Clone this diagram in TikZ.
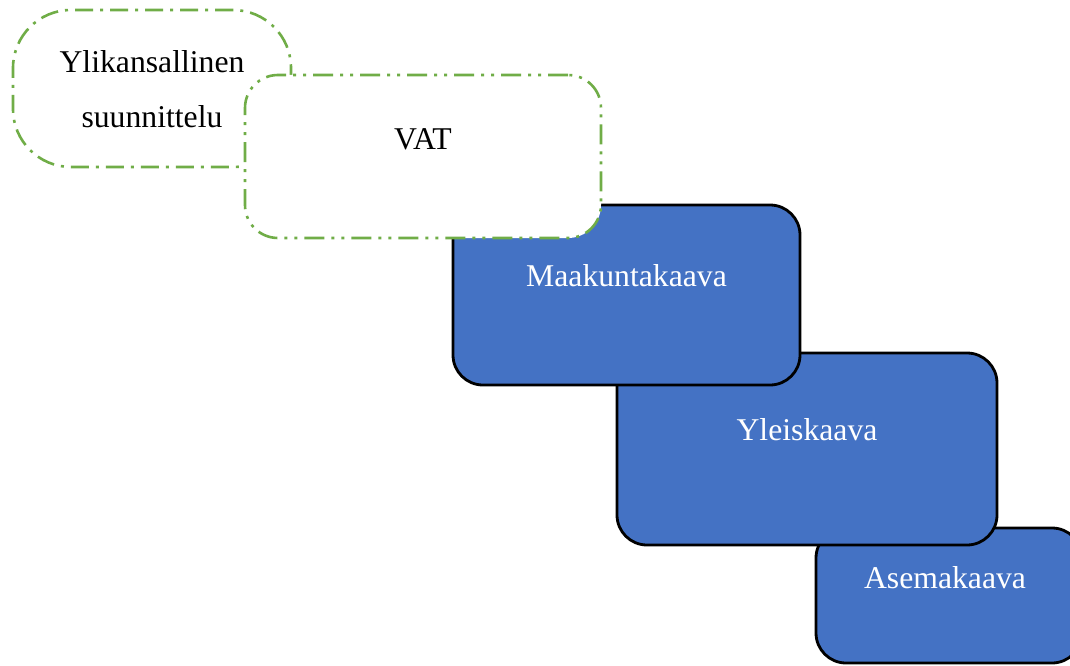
\documentclass[tikz,border=0pt]{standalone}
\usepackage{fontspec}
\setmainfont{Liberation Serif}
\definecolor{bluefill}{HTML}{4472C4}
\definecolor{greenline}{HTML}{70AD47}
\tikzset{
  bluebox/.style={draw=black, line width=2.8pt, fill=bluefill, rectangle, rounded corners=30pt, inner sep=0pt},
  greenbox/.style={draw=greenline, line width=2.6pt, rectangle, inner sep=0pt},
  ddd/.style={dash pattern=on 20pt off 7pt on 3pt off 7pt on 3pt off 7pt},
  dd/.style={dash pattern=on 18pt off 7pt on 3pt off 7pt},
  lbl/.style={font=\fontsize{31.7}{55}\selectfont, anchor=base, inner sep=0pt, align=center},
}
\begin{document}
\begin{tikzpicture}[x=1pt,y=-1pt]
\clip (0,0) rectangle (1070,666);
\fill[white] (0,0) rectangle (1070,666);
% Ylikansallinen suunnittelu
\node[greenbox, dd, rounded corners=58pt, minimum width=278pt, minimum height=157pt] (yli) at (152,88.5) {};
\node[lbl, anchor=base] (ylit) at (152,73) {Ylikansallinen};
\node[lbl, anchor=base] (ylit2) at (152,128) {suunnittelu};
% blue boxes, bottom first
\node[bluebox, minimum width=266pt, minimum height=135pt] (ase) at (949,595.5) {};
\node[lbl, text=white] (aset) at (945,588) {Asemakaava};
\node[bluebox, minimum width=380pt, minimum height=192pt] (yle) at (807,449) {};
\node[lbl, text=white] (ylet) at (807,440) {Yleiskaava};
\node[bluebox, minimum width=347pt, minimum height=180pt] (maa) at (626.5,295) {};
\node[lbl, text=white] (maat) at (626.5,286.7) {Maakuntakaava};
% VAT
\node[greenbox, ddd, fill=white, rounded corners=33pt, minimum width=356pt, minimum height=163pt] (vat) at (423,156.5) {};
\node[lbl] (vatt) at (423,149) {VAT};
\end{tikzpicture}
\end{document}
